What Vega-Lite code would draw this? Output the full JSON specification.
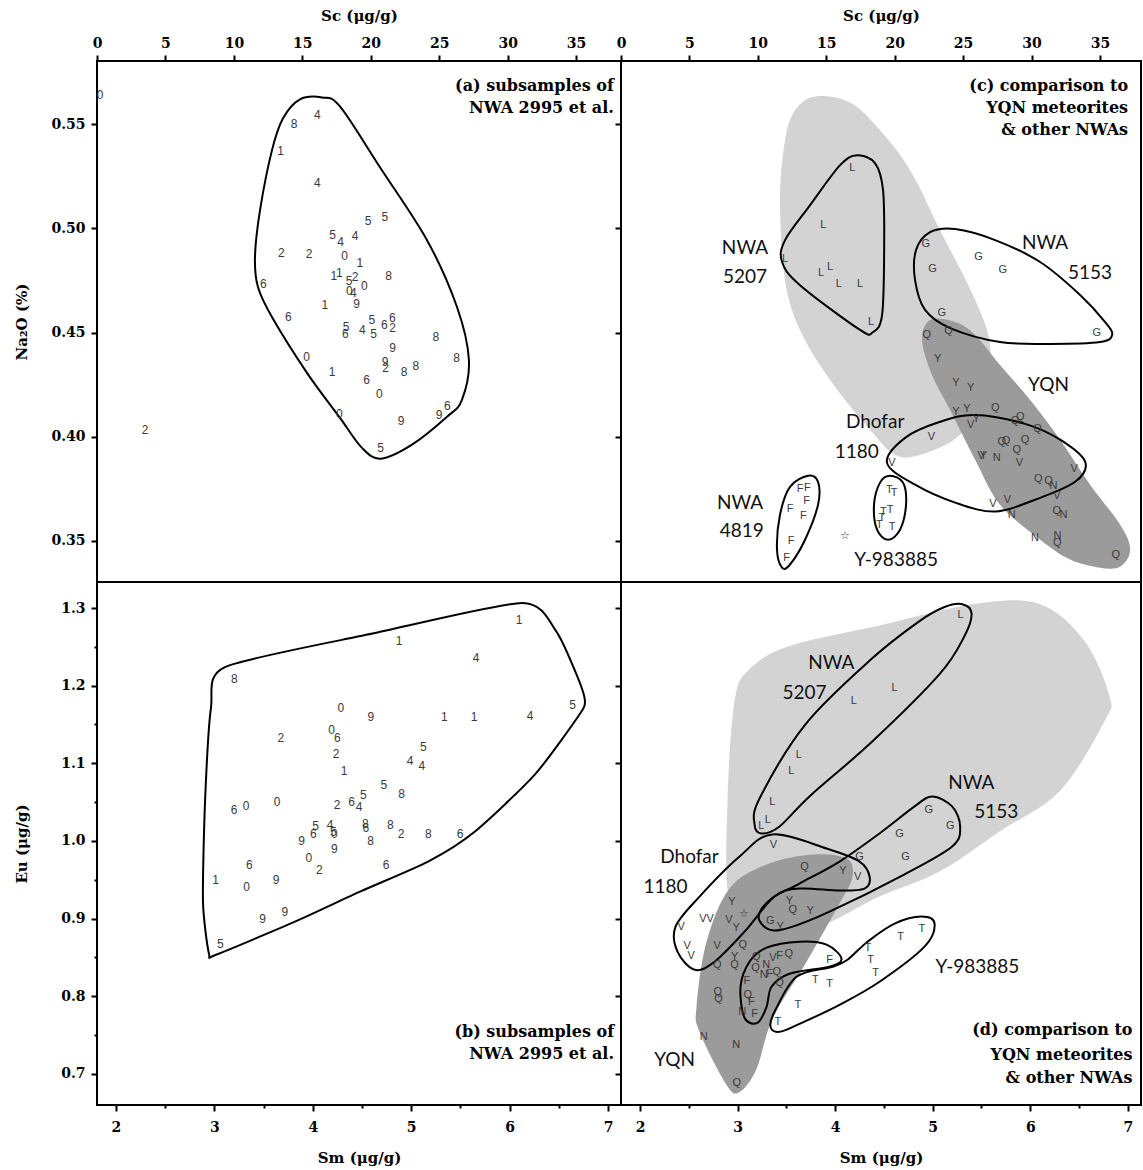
{
"$schema": "https://vega.github.io/schema/vega-lite/v6.json",
"padding": {"left": 13, "top": 7, "right": 0, "bottom": 0},
"config": {
 "view": {"stroke": "#000", "strokeWidth": 2},
 "axis": {"grid": false, "domain": false, "tickColor": "#000", "tickWidth": 2, "tickSize": 6, "labelFont": "DejaVu Serif", "labelFontWeight": "bold", "labelFontSize": 14, "labelColor": "#000", "labelFlush": false, "titleFont": "DejaVu Serif", "titleFontWeight": "bold", "titleFontSize": 15, "titleColor": "#000"}
},
"datasets": {
 "ptsA": [
  {"x":0.22,"y":0.5640,"t":"0"},{"x":3.51,"y":0.4034,"t":"2"},{"x":14.39,"y":0.5503,"t":"8"},{"x":16.09,"y":0.5543,"t":"4"},{"x":13.42,"y":0.5372,"t":"1"},{"x":16.09,"y":0.5216,"t":"4"},{"x":19.80,"y":0.5034,"t":"5"},{"x":21.02,"y":0.5053,"t":"5"},{"x":17.22,"y":0.4971,"t":"5"},{"x":17.80,"y":0.4936,"t":"4"},{"x":18.85,"y":0.4963,"t":"4"},{"x":13.46,"y":0.4880,"t":"2"},{"x":15.49,"y":0.4876,"t":"2"},{"x":18.09,"y":0.4866,"t":"0"},{"x":19.21,"y":0.4832,"t":"1"},{"x":17.31,"y":0.4772,"t":"1"},{"x":17.70,"y":0.4785,"t":"1"},{"x":18.41,"y":0.4749,"t":"5"},{"x":18.85,"y":0.4768,"t":"2"},{"x":18.43,"y":0.4701,"t":"0"},{"x":18.72,"y":0.4692,"t":"4"},{"x":19.53,"y":0.4725,"t":"0"},{"x":21.31,"y":0.4773,"t":"8"},{"x":12.15,"y":0.4732,"t":"6"},{"x":16.65,"y":0.4634,"t":"1"},{"x":18.97,"y":0.4637,"t":"9"},{"x":13.97,"y":0.4574,"t":"6"},{"x":18.19,"y":0.4529,"t":"5"},{"x":18.14,"y":0.4494,"t":"6"},{"x":19.38,"y":0.4513,"t":"4"},{"x":20.07,"y":0.4561,"t":"5"},{"x":20.21,"y":0.4492,"t":"5"},{"x":20.99,"y":0.4535,"t":"6"},{"x":21.57,"y":0.4572,"t":"6"},{"x":21.60,"y":0.4524,"t":"2"},{"x":24.76,"y":0.4481,"t":"8"},{"x":26.27,"y":0.4380,"t":"8"},{"x":21.60,"y":0.4425,"t":"9"},{"x":15.32,"y":0.4382,"t":"0"},{"x":17.17,"y":0.4313,"t":"1"},{"x":21.04,"y":0.4361,"t":"9"},{"x":21.09,"y":0.4329,"t":"2"},{"x":22.43,"y":0.4313,"t":"8"},{"x":23.30,"y":0.4342,"t":"8"},{"x":19.70,"y":0.4273,"t":"6"},{"x":20.62,"y":0.4205,"t":"0"},{"x":17.70,"y":0.4110,"t":"0"},{"x":22.21,"y":0.4077,"t":"9"},{"x":25.00,"y":0.4106,"t":"9"},{"x":25.59,"y":0.4149,"t":"6"},{"x":20.72,"y":0.3946,"t":"5"}
 ],
 "outA": [
  {"s":"A","i":1,"x":14.83,"y":0.5620},{"s":"A","i":2,"x":16.44,"y":0.5629},{"s":"A","i":3,"x":17.75,"y":0.5586},{"s":"A","i":4,"x":20.67,"y":0.5294},{"s":"A","i":5,"x":24.11,"y":0.4944},{"s":"A","i":6,"x":26.30,"y":0.4623},{"s":"A","i":7,"x":27.17,"y":0.4369},{"s":"A","i":8,"x":26.66,"y":0.4177},{"s":"A","i":9,"x":25.57,"y":0.4096},{"s":"A","i":10,"x":23.01,"y":0.3962},{"s":"A","i":11,"x":20.74,"y":0.3895},{"s":"A","i":12,"x":19.36,"y":0.3947},{"s":"A","i":13,"x":17.75,"y":0.4091},{"s":"A","i":14,"x":15.34,"y":0.4307},{"s":"A","i":15,"x":12.78,"y":0.4575},{"s":"A","i":16,"x":11.76,"y":0.4719},{"s":"A","i":17,"x":11.54,"y":0.4863},{"s":"A","i":18,"x":11.91,"y":0.5088},{"s":"A","i":19,"x":12.78,"y":0.5375},{"s":"A","i":20,"x":13.59,"y":0.5529}
 ],
 "annA": [
  {"x":37.76,"y":0.5682,"t":"(a) subsamples of"},{"x":37.76,"y":0.5577,"t":"NWA 2995 et al."}
 ],
 "ptsB": [
  {"x":6.096,"y":1.2841,"t":"1"},{"x":4.876,"y":1.2574,"t":"1"},{"x":5.659,"y":1.2351,"t":"4"},{"x":3.202,"y":1.2080,"t":"8"},{"x":6.641,"y":1.1748,"t":"5"},{"x":4.284,"y":1.1706,"t":"0"},{"x":4.591,"y":1.1597,"t":"9"},{"x":5.336,"y":1.1597,"t":"1"},{"x":5.638,"y":1.1597,"t":"1"},{"x":6.207,"y":1.1615,"t":"4"},{"x":3.674,"y":1.1326,"t":"2"},{"x":4.192,"y":1.1435,"t":"0"},{"x":4.249,"y":1.1326,"t":"6"},{"x":4.236,"y":1.1120,"t":"2"},{"x":5.123,"y":1.1206,"t":"5"},{"x":4.988,"y":1.1035,"t":"4"},{"x":5.107,"y":1.0965,"t":"4"},{"x":4.317,"y":1.0897,"t":"1"},{"x":4.721,"y":1.0725,"t":"5"},{"x":4.903,"y":1.0604,"t":"8"},{"x":4.513,"y":1.0596,"t":"5"},{"x":4.395,"y":1.0501,"t":"6"},{"x":4.470,"y":1.0432,"t":"4"},{"x":4.246,"y":1.0458,"t":"2"},{"x":3.199,"y":1.0403,"t":"6"},{"x":3.321,"y":1.0445,"t":"0"},{"x":3.636,"y":1.0501,"t":"0"},{"x":4.029,"y":1.0187,"t":"5"},{"x":4.175,"y":1.0200,"t":"4"},{"x":4.005,"y":1.0093,"t":"6"},{"x":4.218,"y":1.0093,"t":"0"},{"x":4.210,"y":1.0110,"t":"5"},{"x":4.534,"y":1.0217,"t":"8"},{"x":4.538,"y":1.0165,"t":"6"},{"x":4.788,"y":1.0200,"t":"8"},{"x":4.896,"y":1.0093,"t":"2"},{"x":5.174,"y":1.0093,"t":"8"},{"x":5.496,"y":1.0093,"t":"6"},{"x":3.887,"y":1.0003,"t":"9"},{"x":4.218,"y":0.9899,"t":"9"},{"x":4.588,"y":1.0003,"t":"8"},{"x":3.961,"y":0.9787,"t":"0"},{"x":4.066,"y":0.9623,"t":"2"},{"x":4.744,"y":0.9693,"t":"6"},{"x":3.355,"y":0.9693,"t":"6"},{"x":3.013,"y":0.9499,"t":"1"},{"x":3.328,"y":0.9413,"t":"0"},{"x":3.626,"y":0.9494,"t":"9"},{"x":3.717,"y":0.9090,"t":"9"},{"x":3.491,"y":0.8996,"t":"9"},{"x":3.060,"y":0.8668,"t":"5"}
 ],
 "outB": [
  {"s":"B","i":1,"x":3.108,"y":1.2239},{"s":"B","i":2,"x":4.632,"y":1.2677},{"s":"B","i":3,"x":6.126,"y":1.3065},{"s":"B","i":4,"x":6.472,"y":1.2703},{"s":"B","i":5,"x":6.695,"y":1.2097},{"s":"B","i":6,"x":6.766,"y":1.1800},{"s":"B","i":7,"x":6.705,"y":1.1619},{"s":"B","i":8,"x":6.258,"y":1.0858},{"s":"B","i":9,"x":5.648,"y":1.0123},{"s":"B","i":10,"x":5.171,"y":0.9735},{"s":"B","i":11,"x":4.480,"y":0.9348},{"s":"B","i":12,"x":3.819,"y":0.8961},{"s":"B","i":13,"x":3.016,"y":0.8535},{"s":"B","i":14,"x":2.945,"y":0.8548},{"s":"B","i":15,"x":2.884,"y":0.9219},{"s":"B","i":16,"x":2.905,"y":1.0510},{"s":"B","i":17,"x":2.965,"y":1.1710}
 ],
 "annB": [
  {"x":7.061,"y":0.7542,"t":"(b) subsamples of"},{"x":7.061,"y":0.7258,"t":"NWA 2995 et al."}
 ],
 "lightC": [
  {"i":1,"x":14.18,"y":0.5634},{"i":2,"x":16.74,"y":0.5605},{"i":3,"x":18.93,"y":0.5471},{"i":4,"x":21.13,"y":0.5280},{"i":5,"x":23.32,"y":0.4992},{"i":6,"x":25.88,"y":0.4657},{"i":7,"x":26.97,"y":0.4441},{"i":8,"x":26.61,"y":0.4225},{"i":9,"x":24.78,"y":0.4010},{"i":10,"x":21.86,"y":0.3914},{"i":11,"x":20.03,"y":0.3914},{"i":12,"x":18.20,"y":0.4034},{"i":13,"x":15.28,"y":0.4273},{"i":14,"x":13.08,"y":0.4513},{"i":15,"x":11.99,"y":0.4752},{"i":16,"x":11.62,"y":0.5136},{"i":17,"x":11.99,"y":0.5423},{"i":18,"x":12.72,"y":0.5567}
 ],
 "darkC": [
  {"i":1,"x":22.59,"y":0.4561},{"i":2,"x":24.42,"y":0.4551},{"i":3,"x":25.88,"y":0.4489},{"i":4,"x":27.70,"y":0.4345},{"i":5,"x":29.90,"y":0.4177},{"i":6,"x":32.09,"y":0.3986},{"i":7,"x":34.28,"y":0.3770},{"i":8,"x":36.48,"y":0.3578},{"i":9,"x":37.21,"y":0.3459},{"i":10,"x":36.48,"y":0.3377},{"i":11,"x":35.01,"y":0.3372},{"i":12,"x":32.82,"y":0.3411},{"i":13,"x":30.63,"y":0.3506},{"i":14,"x":27.70,"y":0.3674},{"i":15,"x":25.88,"y":0.3890},{"i":16,"x":24.05,"y":0.4129},{"i":17,"x":22.73,"y":0.4297},{"i":18,"x":22.00,"y":0.4465}
 ],
 "outC": [
  {"s":"L","i":1,"x":17.25,"y":0.5351},{"s":"L","i":2,"x":18.57,"y":0.5313},{"s":"L","i":3,"x":19.15,"y":0.5184},{"s":"L","i":4,"x":19.23,"y":0.4896},{"s":"L","i":5,"x":19.08,"y":0.4585},{"s":"L","i":6,"x":18.42,"y":0.4503},{"s":"L","i":7,"x":17.47,"y":0.4513},{"s":"L","i":8,"x":13.08,"y":0.4728},{"s":"L","i":9,"x":11.77,"y":0.4839},{"s":"L","i":10,"x":11.99,"y":0.4944},{"s":"L","i":11,"x":13.82,"y":0.5112},{"s":"L","i":12,"x":16.01,"y":0.5304},
  {"s":"G","i":1,"x":22.59,"y":0.4982},{"s":"G","i":2,"x":24.42,"y":0.4997},{"s":"G","i":3,"x":27.34,"y":0.4944},{"s":"G","i":4,"x":30.63,"y":0.4839},{"s":"G","i":5,"x":33.55,"y":0.4681},{"s":"G","i":6,"x":35.38,"y":0.4551},{"s":"G","i":7,"x":35.89,"y":0.4489},{"s":"G","i":8,"x":35.01,"y":0.4455},{"s":"G","i":9,"x":31.36,"y":0.4446},{"s":"G","i":10,"x":27.70,"y":0.4455},{"s":"G","i":11,"x":24.05,"y":0.4522},{"s":"G","i":12,"x":22.22,"y":0.4609},{"s":"G","i":13,"x":21.49,"y":0.4752},{"s":"G","i":14,"x":21.56,"y":0.4896},
  {"s":"V","i":1,"x":19.44,"y":0.3875},{"s":"V","i":2,"x":20.76,"y":0.3995},{"s":"V","i":3,"x":23.32,"y":0.4072},{"s":"V","i":4,"x":25.88,"y":0.4105},{"s":"V","i":5,"x":29.53,"y":0.4062},{"s":"V","i":6,"x":32.09,"y":0.3986},{"s":"V","i":7,"x":33.92,"y":0.3880},{"s":"V","i":8,"x":33.19,"y":0.3784},{"s":"V","i":9,"x":30.26,"y":0.3698},{"s":"V","i":10,"x":27.34,"y":0.3641},{"s":"V","i":11,"x":24.42,"y":0.3684},{"s":"V","i":12,"x":21.49,"y":0.3770},
  {"s":"F","i":1,"x":13.67,"y":0.3813},{"s":"F","i":2,"x":14.40,"y":0.3784},{"s":"F","i":3,"x":14.40,"y":0.3674},{"s":"F","i":4,"x":13.45,"y":0.3506},{"s":"F","i":5,"x":12.35,"y":0.3387},{"s":"F","i":6,"x":11.77,"y":0.3372},{"s":"F","i":7,"x":11.40,"y":0.3459},{"s":"F","i":8,"x":11.62,"y":0.3626},{"s":"F","i":9,"x":12.35,"y":0.3760},
  {"s":"T","i":1,"x":19.66,"y":0.3813},{"s":"T","i":2,"x":20.61,"y":0.3780},{"s":"T","i":3,"x":20.83,"y":0.3674},{"s":"T","i":4,"x":20.39,"y":0.3554},{"s":"T","i":5,"x":19.52,"y":0.3506},{"s":"T","i":6,"x":18.71,"y":0.3554},{"s":"T","i":7,"x":18.49,"y":0.3674},{"s":"T","i":8,"x":18.93,"y":0.3780}
 ],
 "ptsC": [
  {"x":16.91,"y":0.5288,"t":"L"},{"x":14.79,"y":0.5019,"t":"L"},{"x":11.99,"y":0.4852,"t":"L"},{"x":15.28,"y":0.4816,"t":"L"},{"x":14.62,"y":0.4785,"t":"L"},{"x":15.91,"y":0.4733,"t":"L"},{"x":17.47,"y":0.4733,"t":"L"},{"x":18.27,"y":0.4553,"t":"L"},
  {"x":22.27,"y":0.4925,"t":"G"},{"x":22.76,"y":0.4804,"t":"G"},{"x":26.12,"y":0.4864,"t":"G"},{"x":27.90,"y":0.4800,"t":"G"},{"x":23.44,"y":0.4596,"t":"G"},{"x":34.77,"y":0.4497,"t":"G"},
  {"x":22.35,"y":0.4489,"t":"Q"},{"x":23.93,"y":0.4509,"t":"Q"},{"x":27.36,"y":0.4140,"t":"Q"},{"x":28.80,"y":0.4078,"t":"Q"},{"x":29.17,"y":0.4094,"t":"Q"},{"x":30.43,"y":0.4037,"t":"Q"},{"x":27.83,"y":0.3977,"t":"Q"},{"x":28.14,"y":0.3982,"t":"Q"},{"x":29.53,"y":0.3986,"t":"Q"},{"x":28.93,"y":0.3938,"t":"Q"},{"x":30.50,"y":0.3797,"t":"Q"},{"x":31.24,"y":0.3786,"t":"Q"},{"x":31.85,"y":0.3642,"t":"Q"},{"x":31.89,"y":0.3491,"t":"Q"},{"x":36.16,"y":0.3431,"t":"Q"},
  {"x":23.15,"y":0.4372,"t":"Y"},{"x":24.47,"y":0.4257,"t":"Y"},{"x":25.56,"y":0.4233,"t":"Y"},{"x":24.47,"y":0.4121,"t":"Y"},{"x":25.27,"y":0.4134,"t":"Y"},{"x":25.95,"y":0.4085,"t":"Y"},{"x":26.48,"y":0.3906,"t":"Y"},
  {"x":25.56,"y":0.4058,"t":"V"},{"x":22.68,"y":0.3999,"t":"V"},{"x":19.79,"y":0.3874,"t":"V"},{"x":29.12,"y":0.3874,"t":"V"},{"x":33.11,"y":0.3845,"t":"V"},{"x":31.85,"y":0.3714,"t":"V"},{"x":27.17,"y":0.3677,"t":"V"},{"x":28.24,"y":0.3695,"t":"V"},{"x":26.32,"y":0.3906,"t":"V"},
  {"x":27.46,"y":0.3898,"t":"N"},{"x":31.60,"y":0.3762,"t":"N"},{"x":28.56,"y":0.3626,"t":"N"},{"x":32.33,"y":0.3626,"t":"N"},{"x":30.26,"y":0.3515,"t":"N"},{"x":31.89,"y":0.3522,"t":"N"},
  {"x":13.08,"y":0.3749,"t":"F"},{"x":13.62,"y":0.3754,"t":"F"},{"x":13.57,"y":0.3690,"t":"F"},{"x":13.33,"y":0.3621,"t":"F"},{"x":12.35,"y":0.3654,"t":"F"},{"x":12.43,"y":0.3498,"t":"F"},{"x":12.11,"y":0.3419,"t":"F"},
  {"x":19.61,"y":0.3743,"t":"T"},{"x":19.96,"y":0.3730,"t":"T"},{"x":19.66,"y":0.3650,"t":"T"},{"x":19.17,"y":0.3637,"t":"T"},{"x":19.06,"y":0.3610,"t":"T"},{"x":18.88,"y":0.3578,"t":"T"},{"x":19.81,"y":0.3567,"t":"T"},
  {"x":16.37,"y":0.3522,"t":"☆"}
 ],
 "labC": [
  {"x":9.06,"y":0.4904,"t":"NWA"},{"x":9.06,"y":0.4768,"t":"5207"},{"x":30.99,"y":0.4928,"t":"NWA"},{"x":34.28,"y":0.4787,"t":"5153"},{"x":31.24,"y":0.4249,"t":"YQN"},{"x":18.57,"y":0.4069,"t":"Dhofar"},{"x":17.23,"y":0.3925,"t":"1180"},{"x":8.70,"y":0.3682,"t":"NWA"},{"x":8.82,"y":0.3546,"t":"4819"},{"x":20.10,"y":0.3411,"t":"Y-983885"}
 ],
 "annC": [
  {"x":37.06,"y":0.5682,"t":"(c) comparison to"},{"x":37.06,"y":0.5577,"t":"YQN meteorites"},{"x":37.06,"y":0.5471,"t":"& other NWAs"}
 ],
 "lightD": [
  {"i":1,"x":3.122,"y":1.2213},{"i":2,"x":3.532,"y":1.2510},{"i":3,"x":4.429,"y":1.2768},{"i":4,"x":5.429,"y":1.3052},{"i":5,"x":6.095,"y":1.3052},{"i":6,"x":6.556,"y":1.2574},{"i":7,"x":6.812,"y":1.1865},{"i":8,"x":6.761,"y":1.1542},{"i":9,"x":6.300,"y":1.0639},{"i":10,"x":5.685,"y":1.0123},{"i":11,"x":5.070,"y":0.9606},{"i":12,"x":4.455,"y":0.9284},{"i":13,"x":3.840,"y":0.8897},{"i":14,"x":3.225,"y":0.8703},{"i":15,"x":2.917,"y":0.9219},{"i":16,"x":2.897,"y":1.0510},{"i":17,"x":2.969,"y":1.1800}
 ],
 "darkD": [
  {"i":1,"x":3.768,"y":0.9826},{"i":2,"x":4.117,"y":0.9774},{"i":3,"x":4.178,"y":0.9542},{"i":4,"x":4.045,"y":0.9194},{"i":5,"x":3.707,"y":0.8445},{"i":6,"x":3.358,"y":0.7710},{"i":7,"x":3.194,"y":0.7065},{"i":8,"x":3.020,"y":0.6768},{"i":9,"x":2.887,"y":0.6858},{"i":10,"x":2.610,"y":0.7542},{"i":11,"x":2.579,"y":0.7865},{"i":12,"x":2.682,"y":0.8703},{"i":13,"x":2.917,"y":0.9387},{"i":14,"x":3.297,"y":0.9697}
 ],
 "outD": [
  {"s":"L","i":1,"x":5.295,"y":1.3052},{"s":"L","i":2,"x":5.398,"y":1.2935},{"s":"L","i":3,"x":5.326,"y":1.2639},{"s":"L","i":4,"x":5.070,"y":1.2148},{"s":"L","i":5,"x":4.383,"y":1.1284},{"s":"L","i":6,"x":3.737,"y":1.0574},{"s":"L","i":7,"x":3.430,"y":1.0187},{"s":"L","i":8,"x":3.245,"y":1.0097},{"s":"L","i":9,"x":3.174,"y":1.0213},{"s":"L","i":10,"x":3.225,"y":1.0548},{"s":"L","i":11,"x":3.696,"y":1.1503},{"s":"L","i":12,"x":4.383,"y":1.2355},{"s":"L","i":13,"x":4.865,"y":1.2832},{"s":"L","i":14,"x":5.121,"y":1.3013},
  {"s":"G","i":1,"x":4.994,"y":1.0574},{"s":"G","i":2,"x":5.199,"y":1.0445},{"s":"G","i":3,"x":5.281,"y":1.0187},{"s":"G","i":4,"x":5.199,"y":0.9929},{"s":"G","i":5,"x":4.707,"y":0.9568},{"s":"G","i":6,"x":3.942,"y":0.9090},{"s":"G","i":7,"x":3.532,"y":0.8884},{"s":"G","i":8,"x":3.327,"y":0.8858},{"s":"G","i":9,"x":3.215,"y":0.9026},{"s":"G","i":10,"x":3.348,"y":0.9258},{"s":"G","i":11,"x":3.635,"y":0.9452},{"s":"G","i":12,"x":4.045,"y":0.9735},{"s":"G","i":13,"x":4.455,"y":1.0097},{"s":"G","i":14,"x":4.814,"y":1.0445},
  {"s":"V","i":1,"x":3.358,"y":1.0084},{"s":"V","i":2,"x":3.912,"y":0.9903},{"s":"V","i":3,"x":4.250,"y":0.9735},{"s":"V","i":4,"x":4.353,"y":0.9542},{"s":"V","i":5,"x":4.301,"y":0.9387},{"s":"V","i":6,"x":4.045,"y":0.9361},{"s":"V","i":7,"x":3.635,"y":0.9387},{"s":"V","i":8,"x":3.379,"y":0.9284},{"s":"V","i":9,"x":3.071,"y":0.8832},{"s":"V","i":10,"x":2.764,"y":0.8445},{"s":"V","i":11,"x":2.559,"y":0.8342},{"s":"V","i":12,"x":2.384,"y":0.8574},{"s":"V","i":13,"x":2.364,"y":0.8897},{"s":"V","i":14,"x":2.610,"y":0.9284},{"s":"V","i":15,"x":3.020,"y":0.9800},
  {"s":"T","i":1,"x":4.885,"y":0.9026},{"s":"T","i":2,"x":5.019,"y":0.8935},{"s":"T","i":3,"x":4.916,"y":0.8639},{"s":"T","i":4,"x":4.455,"y":0.8187},{"s":"T","i":5,"x":4.045,"y":0.7890},{"s":"T","i":6,"x":3.635,"y":0.7645},{"s":"T","i":7,"x":3.430,"y":0.7542},{"s":"T","i":8,"x":3.338,"y":0.7606},{"s":"T","i":9,"x":3.379,"y":0.7800},{"s":"T","i":10,"x":3.604,"y":0.8252},{"s":"T","i":11,"x":3.973,"y":0.8381},{"s":"T","i":12,"x":4.127,"y":0.8471},{"s":"T","i":13,"x":4.332,"y":0.8703},{"s":"T","i":14,"x":4.609,"y":0.8935},
  {"s":"F","i":1,"x":3.297,"y":0.8626},{"s":"F","i":2,"x":3.635,"y":0.8703},{"s":"F","i":3,"x":3.912,"y":0.8665},{"s":"F","i":4,"x":4.065,"y":0.8484},{"s":"F","i":5,"x":3.942,"y":0.8381},{"s":"F","i":6,"x":3.532,"y":0.8290},{"s":"F","i":7,"x":3.348,"y":0.8123},{"s":"F","i":8,"x":3.297,"y":0.7865},{"s":"F","i":9,"x":3.204,"y":0.7658},{"s":"F","i":10,"x":3.071,"y":0.7723},{"s":"F","i":11,"x":3.030,"y":0.8123},{"s":"F","i":12,"x":3.122,"y":0.8445}
 ],
 "ptsD": [
  {"x":5.285,"y":1.2910,"t":"L"},{"x":4.609,"y":1.1964,"t":"L"},{"x":4.192,"y":1.1809,"t":"L"},{"x":3.628,"y":1.1103,"t":"L"},{"x":3.550,"y":1.0897,"t":"L"},{"x":3.355,"y":1.0501,"t":"L"},{"x":3.310,"y":1.0274,"t":"L"},{"x":3.242,"y":1.0187,"t":"L"},
  {"x":4.960,"y":1.0403,"t":"G"},{"x":5.180,"y":1.0196,"t":"G"},{"x":4.660,"y":1.0093,"t":"G"},{"x":4.721,"y":0.9791,"t":"G"},{"x":4.250,"y":0.9800,"t":"G"},{"x":3.335,"y":0.8970,"t":"G"},
  {"x":3.368,"y":0.9951,"t":"V"},{"x":4.232,"y":0.9533,"t":"V"},{"x":2.910,"y":0.8983,"t":"V"},{"x":2.422,"y":0.8897,"t":"V"},{"x":2.644,"y":0.8996,"t":"V"},{"x":2.720,"y":0.8996,"t":"V"},{"x":2.484,"y":0.8652,"t":"V"},{"x":2.525,"y":0.8523,"t":"V"},{"x":2.791,"y":0.8652,"t":"V"},{"x":3.361,"y":0.8488,"t":"V"},
  {"x":3.686,"y":0.9671,"t":"Q"},{"x":3.566,"y":0.9112,"t":"Q"},{"x":3.054,"y":0.8661,"t":"Q"},{"x":2.969,"y":0.8403,"t":"Q"},{"x":2.791,"y":0.8403,"t":"Q"},{"x":3.191,"y":0.8510,"t":"Q"},{"x":3.184,"y":0.8359,"t":"Q"},{"x":3.525,"y":0.8539,"t":"Q"},{"x":3.402,"y":0.8316,"t":"Q"},{"x":3.430,"y":0.8165,"t":"Q"},{"x":2.797,"y":0.8049,"t":"Q"},{"x":3.105,"y":0.8015,"t":"Q"},{"x":2.992,"y":0.6884,"t":"Q"},{"x":2.805,"y":0.7964,"t":"Q"},
  {"x":4.079,"y":0.9616,"t":"Y"},{"x":3.532,"y":0.9228,"t":"Y"},{"x":3.745,"y":0.9103,"t":"Y"},{"x":3.437,"y":0.8897,"t":"Y"},{"x":2.941,"y":0.9219,"t":"Y"},{"x":2.986,"y":0.8884,"t":"Y"},{"x":2.969,"y":0.8510,"t":"Y"},
  {"x":3.294,"y":0.8403,"t":"N"},{"x":3.269,"y":0.8274,"t":"N"},{"x":3.048,"y":0.7800,"t":"N"},{"x":2.654,"y":0.7477,"t":"N"},{"x":2.986,"y":0.7378,"t":"N"},
  {"x":3.430,"y":0.8523,"t":"F"},{"x":3.327,"y":0.8281,"t":"F"},{"x":3.095,"y":0.8200,"t":"F"},{"x":3.140,"y":0.7929,"t":"F"},{"x":3.174,"y":0.7778,"t":"F"},{"x":3.942,"y":0.8467,"t":"F"},
  {"x":4.335,"y":0.8617,"t":"T"},{"x":4.363,"y":0.8467,"t":"T"},{"x":4.414,"y":0.8294,"t":"T"},{"x":4.670,"y":0.8768,"t":"T"},{"x":4.888,"y":0.8867,"t":"T"},{"x":3.796,"y":0.8209,"t":"T"},{"x":3.942,"y":0.8152,"t":"T"},{"x":3.617,"y":0.7894,"t":"T"},{"x":3.412,"y":0.7671,"t":"T"},
  {"x":3.064,"y":0.9055,"t":"☆"}
 ],
 "labD": [
  {"x":3.960,"y":1.2295,"t":"NWA"},{"x":3.686,"y":1.1907,"t":"5207"},{"x":5.395,"y":1.0746,"t":"NWA"},{"x":5.651,"y":1.0372,"t":"5153"},{"x":2.507,"y":0.9800,"t":"Dhofar"},{"x":2.261,"y":0.9413,"t":"1180"},{"x":5.459,"y":0.8381,"t":"Y-983885"},{"x":2.354,"y":0.7181,"t":"YQN"}
 ],
 "annD": [
  {"x":7.048,"y":0.7568,"t":"(d) comparison to"},{"x":7.048,"y":0.7245,"t":"YQN meteorites"},{"x":7.048,"y":0.6948,"t":"& other NWAs"}
 ]
},
"columns": 2,
"spacing": 0,
"bounds": "flush",
"concat": [
 {
  "width": 524, "height": 521,
  "encoding": {
   "x": {"field": "x", "type": "quantitative", "scale": {"domain": [0, 38.28], "nice": false, "zero": false}, "axis": {"orient": "top", "title": "Sc  (μg/g)", "values": [0,5,10,15,20,25,30,35], "labelPadding": 5, "titlePadding": 13}},
   "y": {"field": "y", "type": "quantitative", "scale": {"domain": [0.3303, 0.5804], "nice": false, "zero": false}, "axis": {"title": "Na₂O  (%)", "values": [0.35,0.4,0.45,0.5,0.55], "format": ".2f", "labelPadding": 6, "titlePadding": 18, "minExtent": 50, "maxExtent": 50}}
  },
  "layer": [
   {"data": {"name": "outA"}, "mark": {"type": "line", "interpolate": "cardinal-closed", "stroke": "#000", "strokeWidth": 2}, "encoding": {"order": {"field": "i", "type": "quantitative"}, "detail": {"field": "s", "type": "nominal"}}},
   {"data": {"name": "ptsA"}, "mark": {"type": "text", "font": "Liberation Sans", "fontSize": 12, "fill": "#3a3a3a"}, "encoding": {"text": {"field": "t", "type": "nominal"}}},
   {"data": {"name": "annA"}, "mark": {"type": "text", "font": "DejaVu Serif", "fontWeight": "bold", "fontSize": 16, "align": "right", "fill": "#000"}, "encoding": {"text": {"field": "t", "type": "nominal"}}}
  ]
 },
 {
  "width": 520, "height": 521,
  "encoding": {
   "x": {"field": "x", "type": "quantitative", "scale": {"domain": [0, 38.0], "nice": false, "zero": false}, "axis": {"orient": "top", "title": "Sc  (μg/g)", "values": [0,5,10,15,20,25,30,35], "labelPadding": 5, "titlePadding": 13}},
   "y": {"field": "y", "type": "quantitative", "scale": {"domain": [0.3303, 0.5804], "nice": false, "zero": false}, "axis": {"title": null, "labels": false, "values": [0.35,0.4,0.45,0.5,0.55]}}
  },
  "layer": [
   {"data": {"name": "lightC"}, "mark": {"type": "line", "interpolate": "cardinal-closed", "fill": "#d3d3d3", "strokeWidth": 0, "strokeOpacity": 0}, "encoding": {"order": {"field": "i", "type": "quantitative"}}},
   {"data": {"name": "darkC"}, "mark": {"type": "line", "interpolate": "cardinal-closed", "fill": "#9b9b9b", "strokeWidth": 0, "strokeOpacity": 0}, "encoding": {"order": {"field": "i", "type": "quantitative"}}},
   {"data": {"name": "outC"}, "mark": {"type": "line", "interpolate": "cardinal-closed", "stroke": "#000", "strokeWidth": 2}, "encoding": {"order": {"field": "i", "type": "quantitative"}, "detail": {"field": "s", "type": "nominal"}}},
   {"data": {"name": "ptsC"}, "mark": {"type": "text", "font": "Liberation Sans", "fontSize": 11, "fill": "#3a3a3a"}, "encoding": {"text": {"field": "t", "type": "nominal"}}},
   {"data": {"name": "labC"}, "mark": {"type": "text", "font": "Lato", "fontSize": 19, "fill": "#111"}, "encoding": {"text": {"field": "t", "type": "nominal"}}},
   {"data": {"name": "annC"}, "mark": {"type": "text", "font": "DejaVu Serif", "fontWeight": "bold", "fontSize": 16, "align": "right", "fill": "#000"}, "encoding": {"text": {"field": "t", "type": "nominal"}}}
  ]
 },
 {
  "width": 524, "height": 523,
  "encoding": {
   "x": {"field": "x", "type": "quantitative", "scale": {"domain": [1.807, 7.132], "nice": false, "zero": false}, "axis": {"title": "Sm  (μg/g)", "values": [2,2.5,3,3.5,4,4.5,5,5.5,6,6.5,7], "labelExpr": "datum.value % 1 == 0 ? datum.label : ''", "format": ".0f", "tickSize": {"condition": {"test": "datum.value % 1 != 0", "value": 3}, "value": 6}, "labelPadding": 9, "titlePadding": 16}},
   "y": {"field": "y", "type": "quantitative", "scale": {"domain": [0.66, 1.3335], "nice": false, "zero": false}, "axis": {"title": "Eu  (μg/g)", "values": [0.7,0.75,0.8,0.85,0.9,0.95,1.0,1.05,1.1,1.15,1.2,1.25,1.3], "format": ".1f", "labelExpr": "round(datum.value*100) % 10 == 0 ? datum.label : ''", "tickSize": {"condition": {"test": "round(datum.value*100) % 10 != 0", "value": 3}, "value": 6}, "labelPadding": 6, "titlePadding": 18, "minExtent": 50, "maxExtent": 50}}
  },
  "layer": [
   {"data": {"name": "outB"}, "mark": {"type": "line", "interpolate": "cardinal-closed", "tension": 0.3, "stroke": "#000", "strokeWidth": 2}, "encoding": {"order": {"field": "i", "type": "quantitative"}, "detail": {"field": "s", "type": "nominal"}}},
   {"data": {"name": "ptsB"}, "mark": {"type": "text", "font": "Liberation Sans", "fontSize": 12, "fill": "#3a3a3a"}, "encoding": {"text": {"field": "t", "type": "nominal"}}},
   {"data": {"name": "annB"}, "mark": {"type": "text", "font": "DejaVu Serif", "fontWeight": "bold", "fontSize": 16, "align": "right", "fill": "#000"}, "encoding": {"text": {"field": "t", "type": "nominal"}}}
  ]
 },
 {
  "width": 520, "height": 523,
  "encoding": {
   "x": {"field": "x", "type": "quantitative", "scale": {"domain": [1.805, 7.135], "nice": false, "zero": false}, "axis": {"title": "Sm  (μg/g)", "values": [2,2.5,3,3.5,4,4.5,5,5.5,6,6.5,7], "labelExpr": "datum.value % 1 == 0 ? datum.label : ''", "format": ".0f", "tickSize": {"condition": {"test": "datum.value % 1 != 0", "value": 3}, "value": 6}, "labelPadding": 9, "titlePadding": 16}},
   "y": {"field": "y", "type": "quantitative", "scale": {"domain": [0.66, 1.3335], "nice": false, "zero": false}, "axis": {"title": null, "labels": false, "values": [0.7,0.8,0.9,1.0,1.1,1.2,1.3]}}
  },
  "layer": [
   {"data": {"name": "lightD"}, "mark": {"type": "line", "interpolate": "cardinal-closed", "fill": "#d3d3d3", "strokeWidth": 0, "strokeOpacity": 0}, "encoding": {"order": {"field": "i", "type": "quantitative"}}},
   {"data": {"name": "darkD"}, "mark": {"type": "line", "interpolate": "cardinal-closed", "fill": "#9b9b9b", "strokeWidth": 0, "strokeOpacity": 0}, "encoding": {"order": {"field": "i", "type": "quantitative"}}},
   {"data": {"name": "outD"}, "mark": {"type": "line", "interpolate": "cardinal-closed", "stroke": "#000", "strokeWidth": 2}, "encoding": {"order": {"field": "i", "type": "quantitative"}, "detail": {"field": "s", "type": "nominal"}}},
   {"data": {"name": "ptsD"}, "mark": {"type": "text", "font": "Liberation Sans", "fontSize": 11, "fill": "#3a3a3a"}, "encoding": {"text": {"field": "t", "type": "nominal"}}},
   {"data": {"name": "labD"}, "mark": {"type": "text", "font": "Lato", "fontSize": 19, "fill": "#111"}, "encoding": {"text": {"field": "t", "type": "nominal"}}},
   {"data": {"name": "annD"}, "mark": {"type": "text", "font": "DejaVu Serif", "fontWeight": "bold", "fontSize": 16, "align": "right", "fill": "#000"}, "encoding": {"text": {"field": "t", "type": "nominal"}}}
  ]
 }
]
}
